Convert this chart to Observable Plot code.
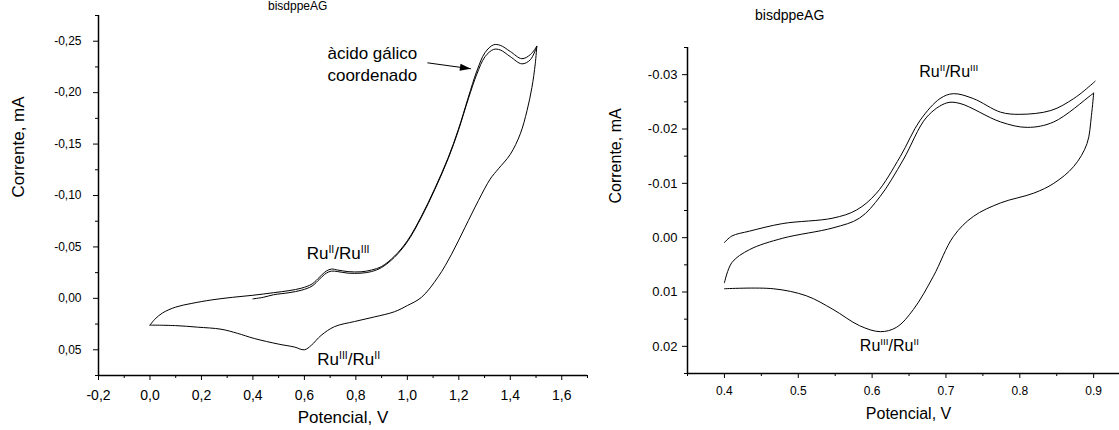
<!DOCTYPE html>
<html><head><meta charset="utf-8">
<script src="https://cdn.jsdelivr.net/npm/d3@7"></script>
<script src="https://cdn.jsdelivr.net/npm/@observablehq/plot@0.6"></script>
<style>
body{margin:0;background:#fff;}
#wrap{position:relative;width:1119px;height:430px;overflow:hidden;font-family:"Liberation Sans",Arial,sans-serif;background:#fff;}
#left{position:absolute;left:0;top:0;}
#right{position:absolute;left:600px;top:0;}
.cap{position:absolute;white-space:nowrap;color:#000;font-size:14px;line-height:14px;}
</style></head><body>
<div id="wrap">
  <div class="cap" style="left:268px;top:0px;font-size:12px;line-height:12px;">bisdppeAG</div>
  <div class="cap" style="left:755px;top:8px;">bisdppeAG</div>
  <div id="left"></div><div id="right"></div>
</div>
<script>
// ---------- LEFT PANEL DATA (Potencial V, Corrente mA) ----------
const leftXTicks = [-0.2, 0.0, 0.2, 0.4, 0.6, 0.8, 1.0, 1.2, 1.4, 1.6];
const leftXMinor = [-0.1, 0.1, 0.3, 0.5, 0.7, 0.9, 1.1, 1.3, 1.5, 1.7];
const leftYTicks = [-0.25, -0.20, -0.15, -0.10, -0.05, 0.00, 0.05];
const leftYMinor = [-0.275, -0.225, -0.175, -0.125, -0.075, -0.025, 0.025, 0.075];

// first forward scan (starts at 0.4 V)
const leftFwd1V = [0.40, 0.44, 0.48, 0.54, 0.59, 0.63, 0.66, 0.685, 0.705, 0.73, 0.77, 0.82, 0.86, 0.90, 0.95, 1.00, 1.055, 1.107, 1.159, 1.198, 1.237, 1.27, 1.302, 1.335, 1.361, 1.40, 1.445, 1.478, 1.503];
const leftFwd1I = [0.0005, -0.001, -0.0035, -0.0055, -0.008, -0.012, -0.019, -0.0245, -0.0265, -0.026, -0.0245, -0.0245, -0.026, -0.030, -0.040, -0.055, -0.079, -0.106, -0.136, -0.163, -0.194, -0.218, -0.235, -0.242, -0.2415, -0.235, -0.228, -0.232, -0.245];
// reverse scan 1.5 -> 0.0 V
const leftRevV = [1.503, 1.497, 1.484, 1.465, 1.439, 1.40, 1.354, 1.322, 1.276, 1.224, 1.172, 1.12, 1.055, 1.00, 0.95, 0.873, 0.795, 0.717, 0.665, 0.627, 0.60, 0.561, 0.50, 0.405, 0.34, 0.276, 0.185, 0.10, 0.00];
const leftRevI = [-0.245, -0.228, -0.205, -0.1825, -0.160, -0.140, -0.126, -0.116, -0.095, -0.069, -0.043, -0.021, -0.001, 0.007, 0.013, 0.018, 0.0225, 0.0275, 0.036, 0.0456, 0.050, 0.0473, 0.0445, 0.039, 0.034, 0.030, 0.028, 0.0265, 0.026];
// second forward scan (from 0.0 V)
const leftFwd2V = [0.00, 0.02, 0.05, 0.10, 0.16, 0.24, 0.32, 0.40, 0.48, 0.54, 0.59, 0.63, 0.66, 0.685, 0.705, 0.73, 0.77, 0.82, 0.86, 0.90, 0.95, 1.00, 1.055, 1.107, 1.159, 1.198, 1.237, 1.27, 1.302, 1.335, 1.361, 1.40, 1.445, 1.478, 1.503];
const leftFwd2I = [0.026, 0.020, 0.014, 0.0085, 0.005, 0.0015, -0.001, -0.003, -0.0055, -0.0075, -0.010, -0.014, -0.021, -0.0265, -0.0285, -0.0275, -0.026, -0.0258, -0.0275, -0.031, -0.041, -0.056, -0.080, -0.107, -0.137, -0.164, -0.1955, -0.221, -0.239, -0.2465, -0.246, -0.240, -0.233, -0.237, -0.245];

const leftLabelText = ["àcido gálico\ncoordenado", "Ru^{II}/Ru^{III}", "Ru^{III}/Ru^{II}"];
const leftLabelV = [0.864, 0.731, 0.772];
const leftLabelI = [-0.2289, -0.0449, 0.0577];
const leftArrowFrom = [1.078, -0.2290];
const leftArrowTo = [1.247, -0.2232];

// ---------- RIGHT PANEL DATA ----------
const rightXTicks = [0.4, 0.5, 0.6, 0.7, 0.8, 0.9];
const rightXMinor = [0.35, 0.45, 0.55, 0.65, 0.75, 0.85];
const rightYTicks = [-0.03, -0.02, -0.01, 0.00, 0.01, 0.02];
const rightYMinor = [-0.035, -0.025, -0.015, -0.005, 0.005, 0.015, 0.025];

const rightFwd1V = [0.400, 0.410, 0.434, 0.479, 0.547, 0.579, 0.606, 0.638, 0.665, 0.692, 0.710, 0.737, 0.774, 0.800, 0.842, 0.873, 0.898, 0.902];
const rightFwd1I = [0.0009, -0.0003, -0.0012, -0.0026, -0.0036, -0.0051, -0.0082, -0.0149, -0.0216, -0.0256, -0.0265, -0.0256, -0.0231, -0.0227, -0.0234, -0.0256, -0.0283, -0.0288];
const rightRevV = [0.900, 0.897, 0.891, 0.873, 0.846, 0.819, 0.774, 0.737, 0.710, 0.683, 0.656, 0.633, 0.611, 0.583, 0.547, 0.511, 0.466, 0.400];
const rightRevI = [-0.0266, -0.0225, -0.0173, -0.0131, -0.0100, -0.0082, -0.0064, -0.0039, -0.0002, 0.0071, 0.0132, 0.0165, 0.0173, 0.0162, 0.0132, 0.0107, 0.0094, 0.0094];
const rightFwd2V = [0.400, 0.410, 0.434, 0.479, 0.547, 0.583, 0.611, 0.642, 0.674, 0.701, 0.719, 0.774, 0.810, 0.846, 0.896, 0.900];
const rightFwd2I = [0.0083, 0.0046, 0.0022, 0.0001, -0.0018, -0.0036, -0.0076, -0.0143, -0.0222, -0.0248, -0.0247, -0.0213, -0.0203, -0.0213, -0.0262, -0.0266];

const rightLabelText = ["Ru^{II}/Ru^{III}", "Ru^{III}/Ru^{II}"];
const rightLabelV = [0.7038, 0.6234];
const rightLabelI = [-0.03045, 0.01985];

// ---------- helpers ----------
const FONT = "'Liberation Sans', Arial, sans-serif";
const rows = (vs, is) => vs.map((v, k) => ({v, i: is[k]}));
const labels = (ts, vs, is) => ts.map((t, k) => ({t, v: vs[k], i: is[k]}));
const comma = n => d => d.toFixed(n).replace(".", ",");
const dot = n => d => d.toFixed(n);
const blank = () => "";
const headSymbol = {draw(ctx) { ctx.moveTo(0, 0); ctx.lineTo(-11, -3.6); ctx.lineTo(-11, 3.6); ctx.closePath(); }};
const lineOpts = {x: "v", y: "i", curve: "catmull-rom", stroke: "#000", strokeWidth: 1};

function supify(svg, shift) {
  const ns = "http://www.w3.org/2000/svg";
  svg.querySelectorAll("text").forEach(t => {
    const s = t.textContent;
    if (!s.includes("^{")) return;
    while (t.firstChild) t.removeChild(t.firstChild);
    const re = /\^\{([^}]*)\}/g;
    let last = 0, m, raised = false;
    const add = (txt, sup) => {
      const ts = document.createElementNS(ns, "tspan");
      ts.textContent = txt;
      if (sup) { ts.setAttribute("font-size", "62%"); if (!raised) ts.setAttribute("dy", -shift); raised = true; }
      else if (raised) { ts.setAttribute("dy", shift); raised = false; }
      t.appendChild(ts);
    };
    while ((m = re.exec(s))) {
      if (m.index > last) add(s.slice(last, m.index), false);
      add(m[1], true);
      last = re.lastIndex;
    }
    if (last < s.length) add(s.slice(last), false);
  });
}

// ---------- LEFT PLOT ----------
const leftPlot = Plot.plot({
  width: 600, height: 430,
  marginLeft: 98, marginRight: 13, marginTop: 15, marginBottom: 55,
  style: {fontFamily: FONT, fontSize: "12px", color: "#000", background: "transparent", overflow: "visible"},
  x: {domain: [-0.2, 1.7]},
  y: {domain: [0.075, -0.275]},
  marks: [
    Plot.axisX({ticks: leftXTicks, tickSize: 5, tickPadding: 10, tickFormat: comma(1), fontSize: 14, label: null}),
    Plot.axisX({ticks: leftXMinor, tickSize: 3, tickFormat: blank, label: null}),
    Plot.axisY({ticks: leftYTicks, tickSize: 5, tickPadding: 12, tickFormat: comma(2), fontSize: 12, label: null}),
    Plot.axisY({ticks: leftYMinor, tickSize: 3, tickFormat: blank, label: null}),
    Plot.ruleX([-0.2], {stroke: "#000", strokeWidth: 1.5}),
    Plot.ruleY([0.075], {stroke: "#000", strokeWidth: 1.5}),
    Plot.line(rows(leftFwd1V, leftFwd1I), lineOpts),
    Plot.line(rows(leftRevV, leftRevI), lineOpts),
    Plot.line(rows(leftFwd2V, leftFwd2I), lineOpts),
    Plot.link([{a: leftArrowFrom, b: leftArrowTo}], {x1: d => d.a[0], y1: d => d.a[1], x2: d => d.b[0], y2: d => d.b[1], stroke: "#000", strokeWidth: 1}),
    Plot.dot([leftArrowTo], {x: d => d[0], y: d => d[1], symbol: headSymbol, fill: "#000", stroke: "none", rotate: 8}),
    Plot.text(labels(leftLabelText, leftLabelV, leftLabelI), {x: "v", y: "i", text: "t", fontSize: 17, lineHeight: 1.27, fill: "#000"}),
    Plot.text(["Corrente, mA"], {frameAnchor: "left", rotate: -90, dx: -80, dy: 2, fontSize: 17, fill: "#000"}),
    Plot.text(["Potencial, V"], {frameAnchor: "bottom", dy: 47, fontSize: 17, fill: "#000"})
  ]
});
supify(leftPlot, 6);
document.getElementById("left").appendChild(leftPlot);

// ---------- RIGHT PLOT ----------
const rightPlot = Plot.plot({
  width: 519, height: 430,
  marginLeft: 87, marginRight: 0, marginTop: 47, marginBottom: 57,
  style: {fontFamily: FONT, fontSize: "12px", color: "#000", background: "transparent", overflow: "visible"},
  x: {domain: [0.35, 0.935]},
  y: {domain: [0.025, -0.035]},
  marks: [
    Plot.axisX({ticks: rightXTicks, tickSize: 5, tickPadding: 8, tickFormat: dot(1), fontSize: 12, label: null}),
    Plot.axisX({ticks: rightXMinor, tickSize: 3, tickFormat: blank, label: null}),
    Plot.axisY({ticks: rightYTicks, tickSize: 5, tickPadding: 5, tickFormat: dot(2), fontSize: 13, label: null}),
    Plot.axisY({ticks: rightYMinor, tickSize: 3, tickFormat: blank, label: null}),
    Plot.ruleX([0.35], {stroke: "#000", strokeWidth: 1.5}),
    Plot.ruleY([0.025], {stroke: "#000", strokeWidth: 1.5}),
    Plot.line(rows(rightFwd1V, rightFwd1I), lineOpts),
    Plot.line(rows(rightRevV, rightRevI), lineOpts),
    Plot.line(rows(rightFwd2V, rightFwd2I), lineOpts),
    Plot.text(labels(rightLabelText, rightLabelV, rightLabelI), {x: "v", y: "i", text: "t", fontSize: 16, fill: "#000"}),
    Plot.text(["Corrente, mA"], {frameAnchor: "left", rotate: -90, dx: -72, dy: -7, fontSize: 16, fill: "#000"}),
    Plot.text(["Potencial, V"], {frameAnchor: "bottom", dy: 45, dx: 5, fontSize: 16, fill: "#000"})
  ]
});
supify(rightPlot, 6);
document.getElementById("right").appendChild(rightPlot);
</script>
</body></html>
